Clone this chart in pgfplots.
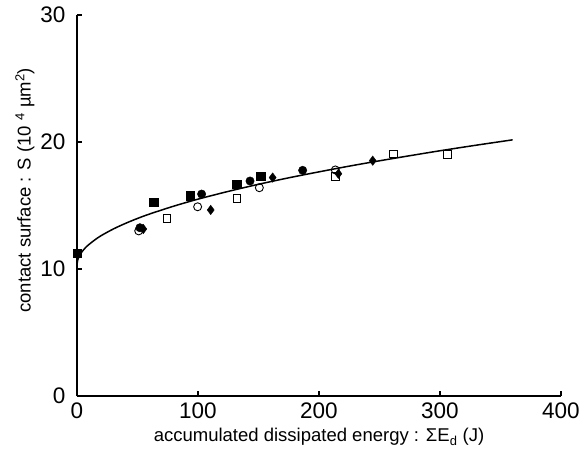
\documentclass[border=0pt]{standalone}
\usepackage{pgfplots}
\pgfplotsset{compat=1.18}
\usepackage{fontspec}
\setmainfont{Liberation Sans}
\begin{document}
\begin{tikzpicture}
\begin{axis}[
  at={(0,0)}, anchor=origin,
  scale only axis, width=484pt, height=381pt,
  xmin=0, xmax=400, ymin=0, ymax=30,
  axis lines=left, axis line style={line width=1.6pt, -},
  xtick={0,100,200,300,400}, ytick={0,10,20,30},
  tick align=inside, major tick length=5pt,
  tick style={line width=1.4pt, black},
  /pgf/number format/assume math mode=true,
  tick label style={font=\fontsize{22.5}{26}\selectfont},
  xticklabel style={yshift=-3pt},
  yticklabel style={xshift=-8pt},
  label style={font=\fontsize{18.5}{22}\selectfont},
  xlabel={accumulated dissipated energy : ΣE\textsubscript{d} (J)},
  ylabel={contact surface : S (10 \textsuperscript{4} µm\textsuperscript{2})},
  xlabel style={yshift=-3pt},
  ylabel style={at={(ticklabel cs:0.54)}, yshift=-1pt},
  clip=false,
]
% fitted curve
\addplot[black, line width=1.5pt, smooth, mark=none] coordinates {
(0,10.3) (0.5,10.67) (1,10.82) (2,11.04) (4,11.34) (7,11.68) (10,11.94) (15,12.31)
(20,12.63) (30,13.15) (40,13.59) (50,13.98) (60,14.33) (80,14.95) (100,15.5)
(125,16.11) (150,16.67) (175,17.18) (200,17.65) (225,18.1) (250,18.52) (275,18.92)
(300,19.31) (330,19.75) (360,20.17)};
% filled squares
\addplot[only marks, mark=square*, mark size=4.2pt, black] coordinates {
(0,11.26) (63.4,15.25) (93.4,15.77) (132,16.7) (151.8,17.32)};
% open squares
\addplot[only marks, mark=square, mark size=3.7pt, black, line width=0.8pt] coordinates {
(74.1,14.0) (132,15.55) (213.5,17.3) (261.4,19.05) (306,19.03)};
% open circles
\addplot[only marks, mark=o, mark size=4pt, black, line width=0.9pt] coordinates {
(51,13.0) (99.7,14.9) (150.7,16.4) (213.5,17.8)};
% filled circles
\addplot[only marks, mark=*, mark size=4.2pt, black] coordinates {
(52,13.25) (103,15.9) (143,16.93) (186.5,17.77)};
% filled diamonds
\addplot[only marks, mark=diamond*, mark size=4.7pt, black] coordinates {
(54.8,13.15) (110.5,14.65) (161.7,17.2) (216,17.5) (244.4,18.53)};
\end{axis}
\pgfresetboundingbox
\path (-77pt,-73pt) rectangle (502pt,396pt);
\end{tikzpicture}
\end{document}
